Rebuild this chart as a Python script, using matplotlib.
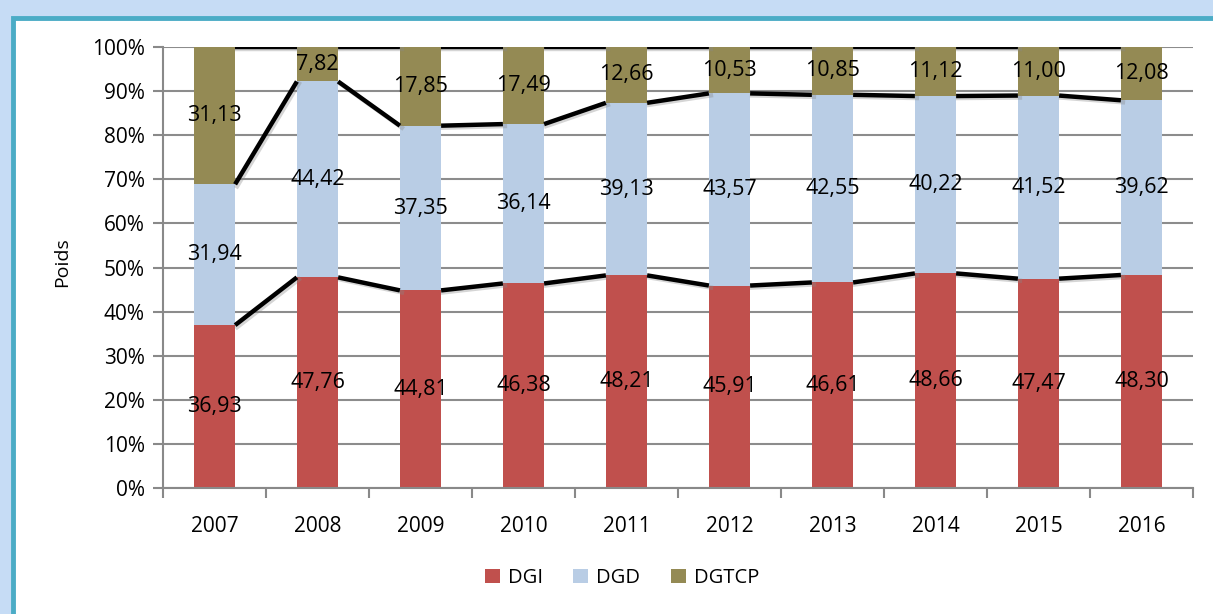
import matplotlib.pyplot as plt
import matplotlib.transforms as mtransforms
import numpy as np
from matplotlib.patches import Rectangle
from matplotlib.ticker import FuncFormatter

plt.rcParams['font.family'] = ['Open Sans', 'DejaVu Sans']

years = ['2007', '2008', '2009', '2010', '2011', '2012', '2013', '2014', '2015', '2016']
dgi = [36.93, 47.76, 44.81, 46.38, 48.21, 45.91, 46.61, 48.66, 47.47, 48.30]
dgd = [31.94, 44.42, 37.35, 36.14, 39.13, 43.57, 42.55, 40.22, 41.52, 39.62]
dgtcp = [31.13, 7.82, 17.85, 17.49, 12.66, 10.53, 10.85, 11.12, 11.00, 12.08]

series = [('DGI', dgi, '#c0504d'), ('DGD', dgd, '#b9cde5'), ('DGTCP', dgtcp, '#948a54')]

W, H = 1213, 614
fig = plt.figure(figsize=(W / 100, H / 100), dpi=100)
fig.patch.set_facecolor('#c6dcf5')

# teal frame with white inside (runs off the right and bottom edges)
fig.patches.append(Rectangle((13 / W, -0.1), 1.2, 1.1 - 18 / H, transform=fig.transFigure,
                             facecolor='white', edgecolor='#4bacc6', lw=3.5, zorder=-5))

ax = fig.add_axes([163 / W, 1 - 488 / H, 1030 / W, 441 / H])
ax.patch.set_alpha(0)

x = np.arange(len(years))
bw = 0.4
bottom = np.zeros(len(years))
tops = []
for name, vals, col in series:
    vals = np.array(vals)
    ax.bar(x, vals, bw, bottom=bottom, color=col, label=name, zorder=2)
    for xi, b, v in zip(x, bottom, vals):
        ax.text(xi, b + v / 2, f'{v:.2f}'.replace('.', ','), ha='center', va='center',
                fontsize=15.5, color='black', zorder=5)
    bottom = bottom + vals
    tops.append(bottom.copy())

# series lines between bars, with a soft shadow
shadow = ax.transData + mtransforms.ScaledTranslation(2 / 100, -2 / 100, fig.dpi_scale_trans)
for cum in tops:
    for i in range(len(years) - 1):
        xs = [x[i] + bw / 2, x[i + 1] - bw / 2]
        ys = [cum[i], cum[i + 1]]
        ax.plot(xs, ys, color='#888888', lw=3.2, alpha=0.35, zorder=3, transform=shadow)
        ax.plot(xs, ys, color='black', lw=3.2, zorder=4, solid_capstyle='butt')

ax.set_xlim(-0.5, len(years) - 0.5)
ax.set_ylim(0, 100)
ax.set_yticks(np.arange(0, 101, 10))
ax.yaxis.set_major_formatter(FuncFormatter(lambda v, p: f'{v:.0f}%'))
ax.set_xticks(x)
ax.set_xticklabels(years)
ax.set_xticks(np.arange(-0.5, len(years)), minor=True)
ax.tick_params(axis='x', which='major', length=0, pad=20, labelsize=15)
ax.tick_params(axis='x', which='minor', length=7, width=1.5, color='#898989', direction='out')
ax.tick_params(axis='y', length=7, width=1.5, color='#898989', direction='out', labelsize=15, pad=6)
ax.grid(axis='y', color='#8c8c8c', lw=1.5, zorder=1)
ax.set_axisbelow(True)
for s in ['top', 'right']:
    ax.spines[s].set_visible(False)
for s in ['left', 'bottom']:
    ax.spines[s].set_color('#898989')
    ax.spines[s].set_linewidth(1.5)

fig.text(62 / W, 1 - 262 / H, 'Poids', rotation=90, ha='center', va='center', fontsize=14)

fig.legend(loc='center', bbox_to_anchor=(622 / W, 1 - 578 / H), ncol=3, frameon=False,
           fontsize=14.5, handlelength=0.75, handleheight=0.75, handletextpad=0.4, columnspacing=1.5)

fig.savefig('out.png', dpi=100, facecolor=fig.get_facecolor())
